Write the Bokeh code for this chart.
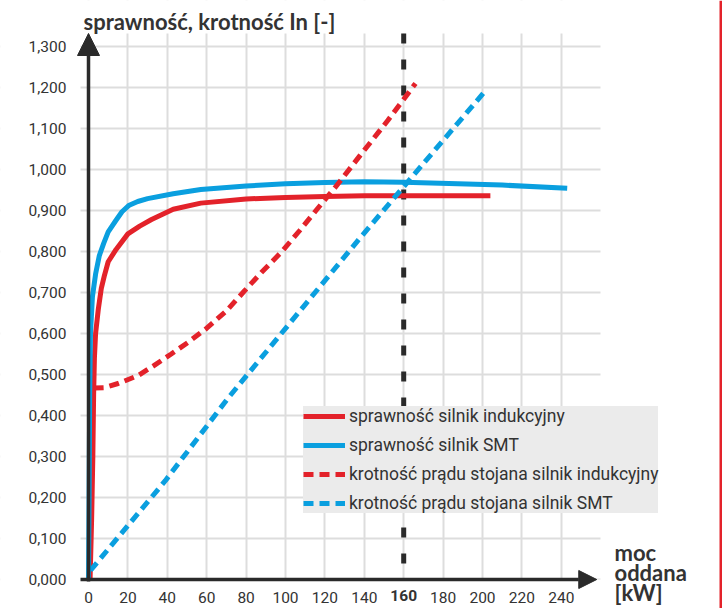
from bokeh.plotting import figure
from bokeh.models import (FixedTicker, Label, Arrow, NormalHead, Legend, BoxAnnotation)
from bokeh.embed import file_html
from bokeh.resources import INLINE

# ---- data ----
x_ticks = [0, 20, 40, 60, 80, 100, 120, 140, 160, 180, 200, 220, 240]
x_tick_labels = [str(t) for t in x_ticks]
y_ticks = [0.0, 0.1, 0.2, 0.3, 0.4, 0.5, 0.6, 0.7, 0.8, 0.9, 1.0, 1.1, 1.2, 1.3]
y_tick_labels = ["0,000", "0,100", "0,200", "0,300", "0,400", "0,500", "0,600",
                 "0,700", "0,800", "0,900", "1,000", "1,100", "1,200", "1,300"]

eff_ind_x = [0.8, 1.6, 2.2, 2.6, 3.0, 3.6, 5.0, 6.5, 8.0, 10.0, 14.0, 20.0, 26.0,
             32.0, 43.0, 57.0, 80.0, 100.0, 120.0, 140.0, 170.0, 204.0]
eff_ind_y = [0.0, 0.15, 0.30, 0.45, 0.54, 0.60, 0.66, 0.71, 0.74, 0.775, 0.805,
             0.843, 0.862, 0.878, 0.903, 0.918, 0.928, 0.932, 0.934, 0.936, 0.936, 0.936]

eff_smt_x = [0.0, 0.3, 0.6, 1.0, 2.0, 3.6, 5.5, 7.7, 10.0, 13.8, 17.0, 20.4, 25.0,
             30.0, 43.0, 57.0, 80.0, 100.0, 120.0, 140.0, 160.0, 183.0, 210.0, 243.0]
eff_smt_y = [0.0, 0.20, 0.45, 0.60, 0.69, 0.745, 0.79, 0.82, 0.848, 0.875, 0.897,
             0.912, 0.922, 0.929, 0.941, 0.951, 0.960, 0.965, 0.968, 0.970, 0.969,
             0.966, 0.962, 0.954]

cur_ind_x = [2.6, 8, 15, 25, 33, 42, 51, 60, 70, 79, 88, 98, 107, 116, 125, 138, 152, 166]
cur_ind_y = [0.467, 0.468, 0.478, 0.497, 0.521, 0.550, 0.580, 0.613, 0.655, 0.703,
             0.750, 0.799, 0.850, 0.903, 0.955, 1.035, 1.120, 1.210]

cur_smt_x = [1, 39, 70.6, 138, 202]
cur_smt_y = [0.022, 0.241, 0.441, 0.834, 1.195]

rated_power = 160

RED = "#e3222a"
BLUE = "#0a9fdf"
DARK = "#2a2a2a"
TXT = "#333333"
FONT = "Roboto"

# plot window (visible grid area)
GX0, GX1 = -4.06, 259.9
GY0, GY1 = 0.0, 1.3317

W, H = 722, 608
PX_X, PX_Y = 1.97, 410.0          # pixels per data unit
X0_PX, Y0_PX = 88.0, 579.0        # pixel position of the data origin

p = figure(width=W, height=H, output_backend="svg", toolbar_location=None,
           x_range=(-X0_PX / PX_X, (W - X0_PX) / PX_X),
           y_range=(-(H - Y0_PX) / PX_Y, Y0_PX / PX_Y),
           min_border=0)
p.outline_line_color = None
p.background_fill_color = "white"
p.border_fill_color = "white"

# axes (labels only), placed inside the canvas
p.xaxis.ticker = FixedTicker(ticks=x_ticks)
ov = {t: l for t, l in zip(x_ticks, x_tick_labels)}
ov[rated_power] = ""
p.xaxis.major_label_overrides = ov
p.yaxis.ticker = FixedTicker(ticks=y_ticks)
p.yaxis.major_label_overrides = {t: l for t, l in zip(y_ticks, y_tick_labels)}
p.xaxis.fixed_location = -0.005
p.yaxis.fixed_location = GX0
for ax in (p.xaxis, p.yaxis):
    ax.axis_line_color = None
    ax.major_tick_line_color = None
    ax.minor_tick_line_color = None
    ax.major_label_text_font = FONT
    ax.major_label_text_font_size = "15.5px"
    ax.major_label_text_color = TXT
p.xaxis.major_label_standoff = 4
p.yaxis.major_label_standoff = 8

p.xgrid.ticker = FixedTicker(ticks=x_ticks)
p.ygrid.ticker = FixedTicker(ticks=y_ticks)
p.grid.grid_line_color = "#dddddd"
p.grid.grid_line_width = 2

# limit grid to the plot window
for kw in (dict(right=GX0), dict(left=GX1), dict(top=GY0), dict(bottom=GY1)):
    p.add_layout(BoxAnnotation(fill_color="white", fill_alpha=1.0, line_alpha=0,
                               level="underlay", **kw))

# page edge stripe
p.add_layout(BoxAnnotation(left=(719 - X0_PX) / PX_X, fill_color=RED, fill_alpha=1.0,
                           line_alpha=0))

# rated power marker
p.segment(x0=[rated_power], y0=[GY1], x1=[rated_power], y1=[GY0],
          line_color=DARK, line_width=5, line_dash="10 16")

# series
r1 = p.line(eff_ind_x, eff_ind_y, line_color=RED, line_width=5)
r2 = p.line(eff_smt_x, eff_smt_y, line_color=BLUE, line_width=5)
r3 = p.line(cur_ind_x, cur_ind_y, line_color=RED, line_width=5, line_dash="10 6")
r4 = p.line(cur_smt_x, cur_smt_y, line_color=BLUE, line_width=5, line_dash="10 6")

# axis arrows
p.add_layout(Arrow(end=NormalHead(size=22, fill_color=DARK, line_color=DARK),
                   x_start=0, y_start=-0.005, x_end=0, y_end=GY1,
                   line_color=DARK, line_width=3.5))
p.add_layout(Arrow(end=NormalHead(size=18, fill_color=DARK, line_color=DARK),
                   x_start=GX0, y_start=0, x_end=258, y_end=0,
                   line_color=DARK, line_width=3.5))

legend = Legend(items=[("sprawność silnik indukcyjny", [r1]),
                       ("sprawność silnik SMT", [r2]),
                       ("krotność prądu stojana silnik indukcyjny", [r3]),
                       ("krotność prądu stojana silnik SMT", [r4])],
                location=(303, 95), background_fill_color="#ebebeb",
                background_fill_alpha=1.0, border_line_color=None,
                label_text_font=FONT, label_text_font_size="17.5px",
                label_text_color=TXT, glyph_width=42, glyph_height=20,
                label_height=20, spacing=9, padding=7, margin=0,
                label_standoff=4)
p.add_layout(legend, "center")

# bold rated-power tick label
p.add_layout(Label(x=rated_power, y=-0.0385, text=str(rated_power),
                   text_font=FONT, text_font_style="bold", text_font_size="15.5px",
                   text_color=TXT, text_align="center", text_baseline="middle"))

# titles
p.add_layout(Label(x=-2.5, y=1.361, text="sprawność, krotność In [-]",
                   text_font="Lato", text_font_style="bold", text_font_size="22px",
                   text_color=TXT, text_align="left", text_baseline="middle"))
for txt, yy in zip(["moc", "oddana", "[kW]"], [0.0659, 0.0171, -0.0317]):
    p.add_layout(Label(x=267, y=yy, text=txt, text_font="Lato", text_font_style="bold",
                       text_font_size="22px", text_color=TXT, text_align="left",
                       text_baseline="middle"))

open("out.html", "w").write(file_html(p, INLINE))
